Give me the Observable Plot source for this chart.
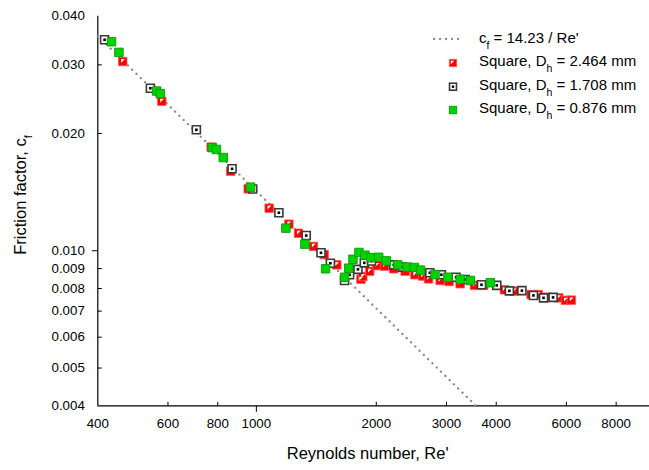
<!DOCTYPE html>
<html><head><meta charset="utf-8">
<script src="https://cdn.jsdelivr.net/npm/d3@7"></script>
<script src="https://cdn.jsdelivr.net/npm/@observablehq/plot@0.6"></script>
<style>
html,body{margin:0;padding:0;background:#fff;overflow:hidden;font-family:"Liberation Sans",Arial,sans-serif}
#chart{position:relative;width:649px;height:470px}
#chart svg{display:block}
</style>
</head><body><div id="chart"></div>
<script>
// ---- data ----
const xTickValues = [400, 600, 800, 1000, 2000, 3000, 4000, 6000, 8000];
const yTickValues = [0.004, 0.005, 0.006, 0.007, 0.008, 0.009, 0.010, 0.020, 0.030, 0.040];
const xMajor = [1000];
const yMajor = [0.010];

const redRe = [462, 579, 770, 862, 954, 1077, 1207, 1276, 1391, 1480, 1592, 1830, 1850, 1925, 2009, 2098, 2212, 2363, 2500, 2614, 2705, 2893, 3046, 3248, 3528, 3720, 4194, 4441, 4892, 5100, 5360, 5740, 5970, 6176];
const redCf = [0.0306, 0.0242, 0.01845, 0.0160, 0.01442, 0.01286, 0.0117, 0.01109, 0.01026, 0.00978, 0.0092, 0.00845, 0.00859, 0.00886, 0.00916, 0.00913, 0.00899, 0.00886, 0.00868, 0.00861, 0.00847, 0.00839, 0.00834, 0.00823, 0.00815, 0.00815, 0.00794, 0.00788, 0.00772, 0.00772, 0.0076, 0.00757, 0.00746, 0.00747];

const blackRe = [416, 542, 707, 869, 979, 1139, 1334, 1453, 1534, 1665, 1714, 1799, 1866, 1946, 2212, 2327, 2725, 2913, 3171, 3342, 3673, 4013, 4316, 4640, 4960, 5258, 5556];
const blackCf = [0.0348, 0.02613, 0.02044, 0.01623, 0.0144, 0.01252, 0.01094, 0.00988, 0.00929, 0.00839, 0.00868, 0.00896, 0.00931, 0.00941, 0.0092, 0.00908, 0.00878, 0.00868, 0.00855, 0.00844, 0.00818, 0.00815, 0.00789, 0.0079, 0.00768, 0.00757, 0.00759];

const greenRe = [433, 452, 562, 574, 775, 794, 826, 967, 1186, 1324, 1492, 1665, 1706, 1748, 1809, 1873, 1941, 2028, 2120, 2264, 2391, 2492, 2583, 2808, 3025, 3248, 3443, 3867];
const greenCf = [0.0344, 0.0323, 0.0257, 0.0253, 0.0184, 0.0182, 0.01735, 0.01456, 0.01143, 0.0104, 0.00899, 0.00855, 0.00902, 0.00951, 0.0099, 0.00974, 0.0096, 0.00962, 0.00942, 0.0092, 0.00908, 0.00906, 0.00892, 0.00869, 0.00855, 0.00845, 0.00839, 0.00828];

const laminarConst = 14.23;          // c_f = 14.23 / Re'
const laminarRe = [400, 3557];

const seriesLabels = ["2.464 mm", "1.708 mm", "0.876 mm"];

// ---- build tables ----
const zip = (xs, ys) => xs.map((x, i) => ({x, y: ys[i]}));
const red = zip(redRe, redCf);
const black = zip(blackRe, blackCf);
const green = zip(greenRe, greenCf);
const laminar = laminarRe.map(x => ({x, y: laminarConst / x}));

// ---- symbols ----
const sq = s => ({draw(ctx){ ctx.rect(-s/2, -s/2, s, s); }});
const triTL = {draw(ctx){ ctx.moveTo(-2.6,-2.6); ctx.lineTo(1.2,-2.6); ctx.lineTo(-2.6,1.2); ctx.closePath(); }};
const tickUp = {draw(ctx){ ctx.moveTo(0,0); ctx.lineTo(0,-4); }};
const tickDown = {draw(ctx){ ctx.moveTo(0,0); ctx.lineTo(0,6); }};
const tickRight = {draw(ctx){ ctx.moveTo(0,0); ctx.lineTo(4,0); }};
const tickLeft = {draw(ctx){ ctx.moveTo(0,0); ctx.lineTo(-6,0); }};

const xDomain = [400, 9700];
const yDomain = [0.004, 0.040];
const xMinor = xTickValues.filter(v => v !== xDomain[0] && !xMajor.includes(v));
const yMinor = yTickValues.filter(v => v !== yDomain[0] && v !== yDomain[1] && !yMajor.includes(v));

const font = '"Liberation Sans", Arial, sans-serif';

const plot = Plot.plot({
  width: 649, height: 470,
  marginLeft: 97.3, marginRight: 0, marginTop: 15.7, marginBottom: 64.7,
  style: {fontFamily: font, background: "#fff", color: "#000"},
  x: {type: "log", domain: xDomain, axis: null},
  y: {type: "log", domain: yDomain, axis: null},
  marks: [
    Plot.text(xTickValues, {x: d => d, text: d => String(d), frameAnchor: "bottom", dy: 22, fontSize: 13.3, fill: "#000"}),
    Plot.text(yTickValues, {y: d => d, text: d => d3.format(".3f")(d), frameAnchor: "left", dx: -13, textAnchor: "end", fontSize: 13.3, fill: "#000"}),
    Plot.dot(xMinor.map(x => ({x, y: yDomain[0]})), {x: "x", y: "y", symbol: tickUp, fill: "none", stroke: "#000", strokeWidth: 1}),
    Plot.dot(xMajor.map(x => ({x, y: yDomain[0]})), {x: "x", y: "y", symbol: tickDown, fill: "none", stroke: "#000", strokeWidth: 1}),
    Plot.dot(yMinor.map(y => ({x: xDomain[0], y})), {x: "x", y: "y", symbol: tickRight, fill: "none", stroke: "#000", strokeWidth: 1}),
    Plot.dot(yMajor.map(y => ({x: xDomain[0], y})), {x: "x", y: "y", symbol: tickLeft, fill: "none", stroke: "#000", strokeWidth: 1}),
    Plot.ruleY([yDomain[0]], {stroke: "#000", strokeWidth: 1.2}),
    Plot.ruleX([xDomain[0]], {stroke: "#000", strokeWidth: 1.2}),
    Plot.line(laminar, {x: "x", y: "y", stroke: "#8a8a8a", strokeWidth: 2.3, strokeDasharray: "0.1,5.9", strokeLinecap: "round"}),
    // red series
    Plot.dot(red, {x: "x", y: "y", symbol: sq(8.5), fill: "#ff0000", stroke: "#ff5a5a", strokeWidth: 0.8}),
    Plot.dot(red, {x: "x", y: "y", symbol: triTL, fill: "#fff", stroke: "none", dx: 1, dy: 0}),
    // black series
    Plot.dot(black, {x: "x", y: "y", symbol: sq(8), fill: "#fff", stroke: "#3a3a3a", strokeWidth: 1.6}),
    Plot.dot(black, {x: "x", y: "y", symbol: sq(2.6), fill: "#000", stroke: "none"}),
    // green series
    Plot.dot(green, {x: "x", y: "y", symbol: sq(8.5), fill: "#00d400", stroke: "#0a9a0a", strokeWidth: 0.9}),
    Plot.text(["Reynolds number, Re'"], {frameAnchor: "bottom", dx: -6, dy: 53, fontSize: 16.5, fill: "#000"})
  ]
});
document.getElementById("chart").appendChild(plot);

// ---- y axis title and legend (with subscripts) ----
const svg = d3.select(plot);
const yt = svg.append("text")
  .attr("transform", "translate(25.5,195) rotate(-90)")
  .attr("text-anchor", "middle")
  .attr("font-size", 16.5).attr("font-family", font).attr("fill", "#000");
yt.append("tspan").text("Friction factor, c");
yt.append("tspan").attr("baseline-shift", "sub").attr("font-size", 11).text("f");

const lg = svg.append("g").attr("font-family", font).attr("font-size", 15).attr("fill", "#000").attr("text-anchor", "start");
lg.append("line").attr("x1", 434).attr("x2", 464).attr("y1", 39).attr("y2", 39)
  .attr("stroke", "#8a8a8a").attr("stroke-width", 2.3).attr("stroke-dasharray", "0.1,5.9").attr("stroke-linecap", "round");
const t0 = lg.append("text").attr("x", 479).attr("y", 42.5).attr("text-anchor", "start");
t0.append("tspan").text("c");
t0.append("tspan").attr("baseline-shift", "sub").attr("font-size", 10.5).text("f");
t0.append("tspan").attr("baseline-shift", "0").text(` = ${laminarConst} / Re'`);

const rows = [66, 89.5, 113];
seriesLabels.forEach((lab, i) => {
  const t = lg.append("text").attr("x", 479).attr("y", rows[i]).attr("text-anchor", "start");
  t.append("tspan").text("Square, D");
  t.append("tspan").attr("baseline-shift", "sub").attr("font-size", 10.5).text("h");
  t.append("tspan").attr("baseline-shift", "0").text(" = " + lab);
});
// legend markers
const mx = 453;
const my = [63, 86.7, 110];
lg.append("rect").attr("x", mx-3.7).attr("y", my[0]-3.7).attr("width", 7.4).attr("height", 7.4).attr("fill", "#ff0000").attr("stroke", "#ff5a5a").attr("stroke-width", 0.8);
lg.append("path").attr("d", `M${mx-2.2},${my[0]-2.2}L${mx+1.2},${my[0]-2.2}L${mx-2.2},${my[0]+1.2}Z`).attr("fill", "#fff");
lg.append("rect").attr("x", mx-3.5).attr("y", my[1]-3.5).attr("width", 7).attr("height", 7).attr("fill", "#fff").attr("stroke", "#3a3a3a").attr("stroke-width", 1.6);
lg.append("rect").attr("x", mx-1.2).attr("y", my[1]-1.2).attr("width", 2.4).attr("height", 2.4).attr("fill", "#000");
lg.append("rect").attr("x", mx-3.7).attr("y", my[2]-3.7).attr("width", 7.4).attr("height", 7.4).attr("fill", "#00d400").attr("stroke", "#0a9a0a").attr("stroke-width", 0.9);
</script>
</body></html>
